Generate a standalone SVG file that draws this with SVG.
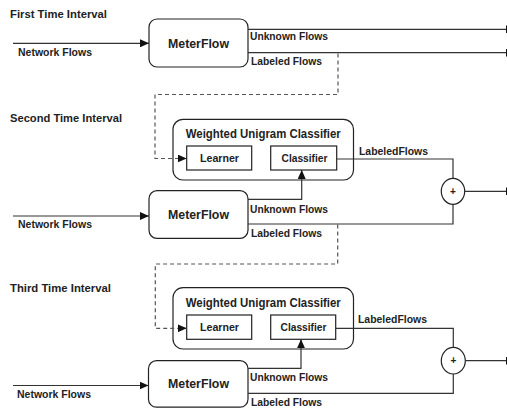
<svg xmlns="http://www.w3.org/2000/svg" width="507" height="410" viewBox="0 0 507 410">
<defs>
<marker id="arr" markerWidth="9" markerHeight="8" refX="9" refY="4" orient="auto" markerUnits="userSpaceOnUse">
<path d="M0,0 L9,4 L0,8 Z" fill="#111"/>
</marker>
<style>
text{font-family:"Liberation Sans",Arial,sans-serif;font-weight:bold;fill:#222}
.h{font-size:11px}
.s{font-size:10px}
.m{font-size:12.5px}
.t{font-size:12.5px}
.box{fill:#fff;stroke:#222;stroke-width:1.2}
.ln{fill:none;stroke:#333;stroke-width:1.2}
.dash{fill:none;stroke:#555;stroke-width:1.2;stroke-dasharray:4 3}
</style>
</defs>
<rect width="507" height="410" fill="#fff"/>

<g id="labels">
<text class="h" x="10" y="18" textLength="97" lengthAdjust="spacingAndGlyphs">First Time Interval</text>
<text class="h" x="10" y="122" textLength="112" lengthAdjust="spacingAndGlyphs">Second Time Interval</text>
<text class="h" x="10" y="292" textLength="101" lengthAdjust="spacingAndGlyphs">Third Time Interval</text>
<text class="s" x="18" y="56" textLength="74" lengthAdjust="spacingAndGlyphs">Network Flows</text>
<text class="s" x="18" y="228" textLength="74" lengthAdjust="spacingAndGlyphs">Network Flows</text>
<text class="s" x="17" y="398" textLength="74" lengthAdjust="spacingAndGlyphs">Network Flows</text>
<text class="s" x="250" y="40" textLength="78" lengthAdjust="spacingAndGlyphs">Unknown Flows</text>
<text class="s" x="251" y="65" textLength="71" lengthAdjust="spacingAndGlyphs">Labeled Flows</text>
<text class="s" x="250" y="213" textLength="78" lengthAdjust="spacingAndGlyphs">Unknown Flows</text>
<text class="s" x="251" y="236.5" textLength="71" lengthAdjust="spacingAndGlyphs">Labeled Flows</text>
<text class="s" x="250" y="381" textLength="78" lengthAdjust="spacingAndGlyphs">Unknown Flows</text>
<text class="s" x="251" y="406" textLength="71" lengthAdjust="spacingAndGlyphs">Labeled Flows</text>
<text class="s" x="359" y="154.5" textLength="69" lengthAdjust="spacingAndGlyphs">LabeledFlows</text>
<text class="s" x="358" y="323" textLength="69" lengthAdjust="spacingAndGlyphs">LabeledFlows</text>
</g>

<g id="meterflow1">
<rect class="box" x="149" y="19" width="99" height="48" rx="8"/>
<text class="m" x="198.5" y="47.5" text-anchor="middle" textLength="61" lengthAdjust="spacingAndGlyphs">MeterFlow</text>
</g>

<g id="wuc2">
<rect class="box" x="173" y="119.3" width="180.5" height="60.7" rx="10"/>
<text class="t" x="263.3" y="137.5" text-anchor="middle" textLength="155" lengthAdjust="spacingAndGlyphs">Weighted Unigram Classifier</text>
</g>
<g id="learner2">
<rect class="box" x="186.7" y="146" width="65" height="24"/>
<text class="s" x="219.5" y="161.8" text-anchor="middle" textLength="39" lengthAdjust="spacingAndGlyphs">Learner</text>
</g>
<g id="classifier2">
<rect class="box" x="270.7" y="146" width="66" height="24"/>
<text class="s" x="304.5" y="161.8" text-anchor="middle" textLength="46" lengthAdjust="spacingAndGlyphs">Classifier</text>
</g>
<g id="sum2">
<ellipse class="box" cx="453" cy="191.3" rx="11.7" ry="13"/>
<text class="s" x="453" y="195" text-anchor="middle">+</text>
</g>
<g id="meterflow2">
<rect class="box" x="149" y="190.7" width="99" height="47.6" rx="8"/>
<text class="m" x="198.5" y="219" text-anchor="middle" textLength="61" lengthAdjust="spacingAndGlyphs">MeterFlow</text>
</g>

<g id="wuc3">
<rect class="box" x="173" y="287.7" width="180.5" height="61.3" rx="10"/>
<text class="t" x="263.3" y="307" text-anchor="middle" textLength="155" lengthAdjust="spacingAndGlyphs">Weighted Unigram Classifier</text>
</g>
<g id="learner3">
<rect class="box" x="186.7" y="315" width="65" height="24.3"/>
<text class="s" x="219.5" y="330.8" text-anchor="middle" textLength="39" lengthAdjust="spacingAndGlyphs">Learner</text>
</g>
<g id="classifier3">
<rect class="box" x="270.7" y="315" width="65" height="24.3"/>
<text class="s" x="303.5" y="330.8" text-anchor="middle" textLength="46" lengthAdjust="spacingAndGlyphs">Classifier</text>
</g>
<g id="sum3">
<ellipse class="box" cx="453.3" cy="360.7" rx="12" ry="13.3"/>
<text class="s" x="453.3" y="364.4" text-anchor="middle">+</text>
</g>
<g id="meterflow3">
<rect class="box" x="148.5" y="360.7" width="99.5" height="46.5" rx="8"/>
<text class="m" x="198.5" y="388" text-anchor="middle" textLength="61" lengthAdjust="spacingAndGlyphs">MeterFlow</text>
</g>

<g id="connectors">
<!-- interval 1 -->
<line class="ln" x1="13" y1="43.3" x2="149" y2="43.3" marker-end="url(#arr)"/>
<line class="ln" x1="248" y1="29.3" x2="515" y2="29.3" marker-end="url(#arr)"/>
<line class="ln" x1="248" y1="52.7" x2="515" y2="52.7" marker-end="url(#arr)"/>
<path class="dash" d="M338,53.5 V94.5 H155 V158.5 H186.7" marker-end="url(#arr)"/>
<!-- interval 2 -->
<line class="ln" x1="13" y1="216" x2="149" y2="216" marker-end="url(#arr)"/>
<path class="ln" d="M248,199.3 H301.7 V170" marker-end="url(#arr)"/>
<path class="ln" d="M336.7,159 H453 V178.3"/>
<path class="ln" d="M248,224 H453 V204.3"/>
<line class="ln" x1="464.7" y1="191.3" x2="515" y2="191.3" marker-end="url(#arr)"/>
<path class="dash" d="M337.7,224.6 V264 H155.3 V328.3 H186.7" marker-end="url(#arr)"/>
<!-- interval 3 -->
<line class="ln" x1="13" y1="385.5" x2="148.5" y2="385.5" marker-end="url(#arr)"/>
<path class="ln" d="M248,368.3 H301 V339.3" marker-end="url(#arr)"/>
<path class="ln" d="M335.7,328.3 H453.3 V347.4"/>
<path class="ln" d="M248,393.3 H453.3 V374"/>
<line class="ln" x1="465.3" y1="360.7" x2="515" y2="360.7" marker-end="url(#arr)"/>
</g>
</svg>
